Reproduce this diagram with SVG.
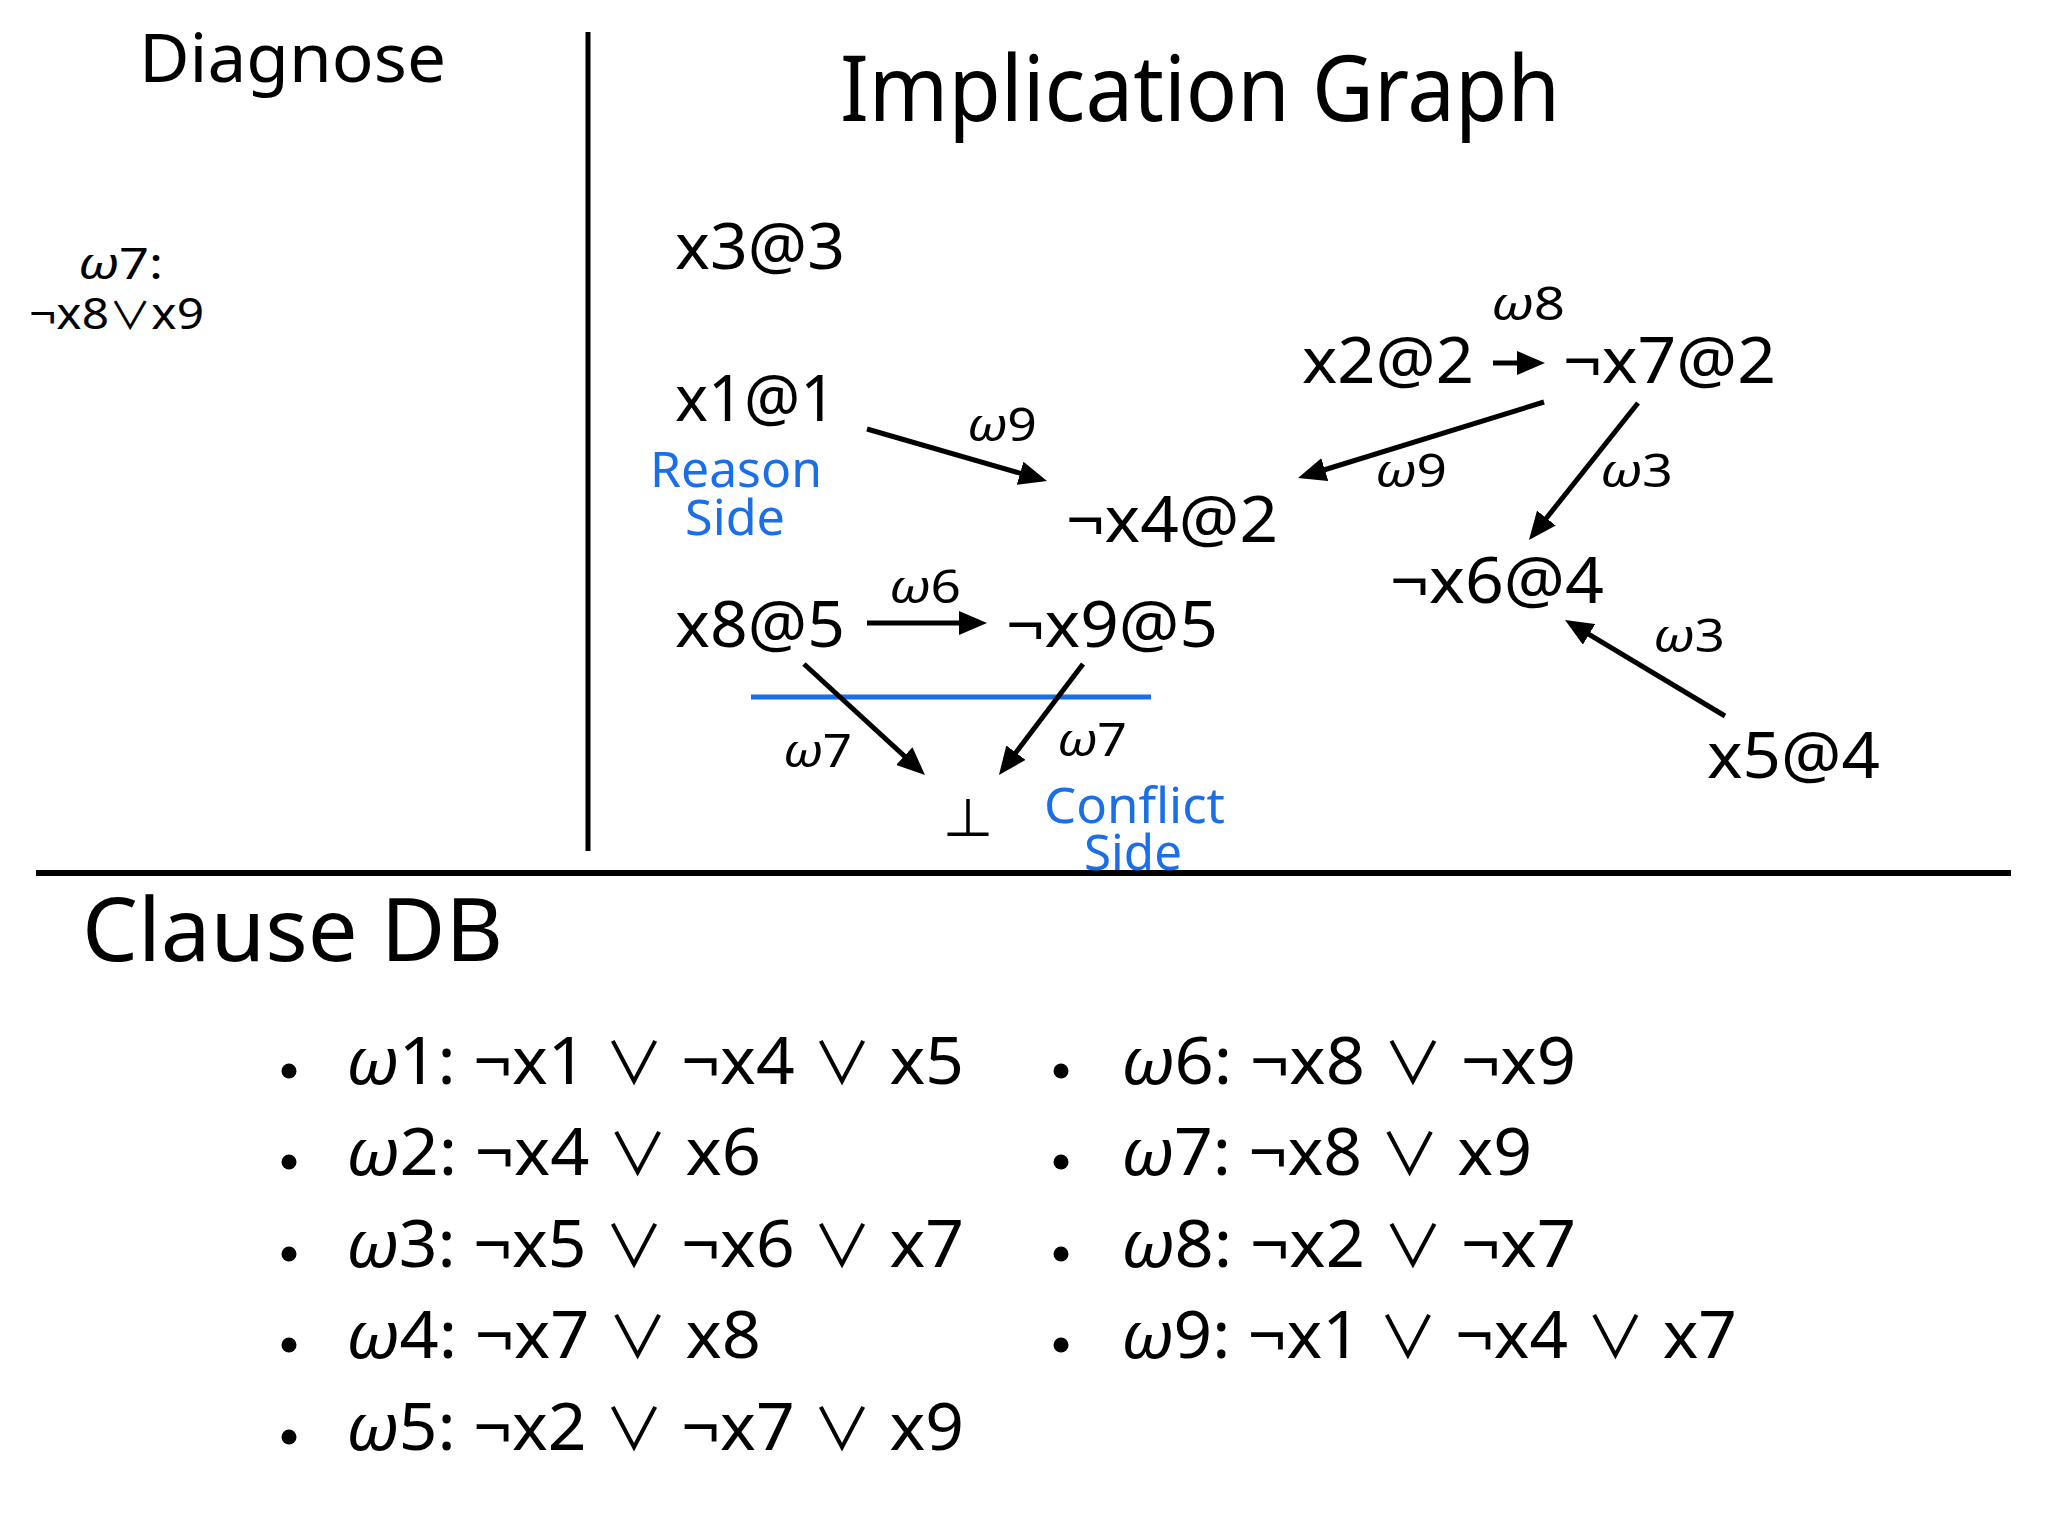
<svg xmlns="http://www.w3.org/2000/svg" width="2048" height="1536" viewBox="0 0 2048 1536">
<style>
text{font-family:"Noto Sans","DejaVu Sans","Liberation Sans",sans-serif;fill:#000}
.title{font-size:90px}
.node{font-size:63px}
.lbl{font-size:46px}
.blue{font-size:49px;fill:#1a6ee8}
.cl{font-size:66px}
.diag{font-size:43px}
.om{font-style:italic}
.sym{font-family:"Noto Sans CJK JP","DejaVu Sans",sans-serif}
.cl .sym{font-size:58px}
.diag .sym{font-size:38px}
.conn line{stroke:#000;stroke-width:5;marker-end:url(#ah)}
</style>
<defs>
<marker id="ah" markerUnits="userSpaceOnUse" viewBox="0 0 28 24" markerWidth="28" markerHeight="24" refX="18" refY="12" orient="auto">
<path d="M0,0 L28,12 L0,24 z" fill="#000"/>
</marker>
</defs>
<rect width="2048" height="1536" fill="#fff"/>

<g id="frame">
<line x1="588" y1="32" x2="588" y2="851" stroke="#000" stroke-width="5"/>
<line x1="36" y1="873" x2="2011" y2="873" stroke="#000" stroke-width="6"/>
<line x1="751" y1="697" x2="1151" y2="697" stroke="#1a6ee8" stroke-width="5"/>
</g>

<g id="titles">
<text class="title" x="139" y="82" style="font-size:67px" textLength="307" lengthAdjust="spacingAndGlyphs">Diagnose</text>
<text class="title" x="840" y="121" style="font-size:92px" textLength="720" lengthAdjust="spacingAndGlyphs">Implication Graph</text>
<text class="title" x="82" y="961" style="font-size:87px" textLength="421" lengthAdjust="spacingAndGlyphs">Clause DB</text>
</g>

<g id="diagnose">
<text class="diag" x="78" y="279" textLength="85" lengthAdjust="spacingAndGlyphs"><tspan class="om">ω</tspan>7:</text>
<text class="diag" x="29" y="329" textLength="175" lengthAdjust="spacingAndGlyphs">¬x8<tspan class="sym">∨</tspan>x9</text>
</g>

<g id="conn" class="conn">
<line x1="867" y1="429" x2="1037.4" y2="478.2"/>
<line x1="1493" y1="363" x2="1535" y2="363"/>
<line x1="1544" y1="402" x2="1307.6" y2="475.0"/>
<line x1="1638" y1="403" x2="1535.2" y2="532.2"/>
<line x1="1725" y1="716" x2="1573.6" y2="625.1"/>
<line x1="867" y1="623" x2="977" y2="623"/>
<line x1="804" y1="664" x2="917.6" y2="768.2"/>
<line x1="1083" y1="664" x2="1005.0" y2="767.0"/>
</g>

<g id="edge-labels">
<text class="lbl" x="967" y="441" textLength="70" lengthAdjust="spacingAndGlyphs"><tspan class="om">ω</tspan>9</text>
<text class="lbl" x="889" y="603" textLength="72" lengthAdjust="spacingAndGlyphs"><tspan class="om">ω</tspan>6</text>
<text class="lbl" x="783" y="767" textLength="69" lengthAdjust="spacingAndGlyphs"><tspan class="om">ω</tspan>7</text>
<text class="lbl" x="1057" y="756" textLength="70" lengthAdjust="spacingAndGlyphs"><tspan class="om">ω</tspan>7</text>
<text class="lbl" x="1491" y="320" textLength="74" lengthAdjust="spacingAndGlyphs"><tspan class="om">ω</tspan>8</text>
<text class="lbl" x="1375" y="487" textLength="72" lengthAdjust="spacingAndGlyphs"><tspan class="om">ω</tspan>9</text>
<text class="lbl" x="1600" y="487" textLength="73" lengthAdjust="spacingAndGlyphs"><tspan class="om">ω</tspan>3</text>
<text class="lbl" x="1653" y="652" textLength="72" lengthAdjust="spacingAndGlyphs"><tspan class="om">ω</tspan>3</text>
</g>

<g id="n-x3"><text class="node" x="675" y="269" textLength="170" lengthAdjust="spacingAndGlyphs">x3@3</text></g>
<g id="n-x1"><text class="node" x="675" y="421" textLength="161" lengthAdjust="spacingAndGlyphs">x1@1</text></g>
<g id="n-nx4"><text class="node" x="1066" y="542" textLength="212" lengthAdjust="spacingAndGlyphs">¬x4@2</text></g>
<g id="n-x8"><text class="node" x="675" y="647" textLength="170" lengthAdjust="spacingAndGlyphs">x8@5</text></g>
<g id="n-nx9"><text class="node" x="1006" y="647" textLength="212" lengthAdjust="spacingAndGlyphs">¬x9@5</text></g>
<g id="n-x2"><text class="node" x="1302" y="383" textLength="172" lengthAdjust="spacingAndGlyphs">x2@2</text></g>
<g id="n-nx7"><text class="node" x="1563" y="383" textLength="213" lengthAdjust="spacingAndGlyphs">¬x7@2</text></g>
<g id="n-nx6"><text class="node" x="1390" y="603" textLength="214" lengthAdjust="spacingAndGlyphs">¬x6@4</text></g>
<g id="n-x5"><text class="node" x="1707" y="778" textLength="173" lengthAdjust="spacingAndGlyphs">x5@4</text></g>
<g id="n-bot"><text class="node sym" x="968" y="838" style="font-size:52px" text-anchor="middle">⊥</text></g>

<g id="side-labels">
<text class="blue" x="650" y="487" textLength="172" lengthAdjust="spacingAndGlyphs">Reason</text>
<text class="blue" x="685" y="535" textLength="100" lengthAdjust="spacingAndGlyphs">Side</text>
<text class="blue" x="1044" y="823" textLength="181" lengthAdjust="spacingAndGlyphs">Conflict</text>
<text class="blue" x="1084" y="870" textLength="98" lengthAdjust="spacingAndGlyphs">Side</text>
</g>

<g id="clauses">
<circle cx="289" cy="1071" r="7.5"/>
<circle cx="289" cy="1162" r="7.5"/>
<circle cx="289" cy="1254" r="7.5"/>
<circle cx="289" cy="1345" r="7.5"/>
<circle cx="289" cy="1437" r="7.5"/>
<circle cx="1061" cy="1071" r="7.5"/>
<circle cx="1061" cy="1162" r="7.5"/>
<circle cx="1061" cy="1254" r="7.5"/>
<circle cx="1061" cy="1345" r="7.5"/>
<text class="cl" x="346" y="1084" textLength="618" lengthAdjust="spacingAndGlyphs"><tspan class="om">ω</tspan>1: ¬x1 <tspan class="sym">∨</tspan> ¬x4 <tspan class="sym">∨</tspan> x5</text>
<text class="cl" x="346" y="1175" textLength="415" lengthAdjust="spacingAndGlyphs"><tspan class="om">ω</tspan>2: ¬x4 <tspan class="sym">∨</tspan> x6</text>
<text class="cl" x="346" y="1267" textLength="618" lengthAdjust="spacingAndGlyphs"><tspan class="om">ω</tspan>3: ¬x5 <tspan class="sym">∨</tspan> ¬x6 <tspan class="sym">∨</tspan> x7</text>
<text class="cl" x="346" y="1358" textLength="415" lengthAdjust="spacingAndGlyphs"><tspan class="om">ω</tspan>4: ¬x7 <tspan class="sym">∨</tspan> x8</text>
<text class="cl" x="346" y="1450" textLength="618" lengthAdjust="spacingAndGlyphs"><tspan class="om">ω</tspan>5: ¬x2 <tspan class="sym">∨</tspan> ¬x7 <tspan class="sym">∨</tspan> x9</text>
<text class="cl" x="1121" y="1084" textLength="455" lengthAdjust="spacingAndGlyphs"><tspan class="om">ω</tspan>6: ¬x8 <tspan class="sym">∨</tspan> ¬x9</text>
<text class="cl" x="1121" y="1175" textLength="411" lengthAdjust="spacingAndGlyphs"><tspan class="om">ω</tspan>7: ¬x8 <tspan class="sym">∨</tspan> x9</text>
<text class="cl" x="1121" y="1267" textLength="455" lengthAdjust="spacingAndGlyphs"><tspan class="om">ω</tspan>8: ¬x2 <tspan class="sym">∨</tspan> ¬x7</text>
<text class="cl" x="1121" y="1358" textLength="616" lengthAdjust="spacingAndGlyphs"><tspan class="om">ω</tspan>9: ¬x1 <tspan class="sym">∨</tspan> ¬x4 <tspan class="sym">∨</tspan> x7</text>
</g>
</svg>
